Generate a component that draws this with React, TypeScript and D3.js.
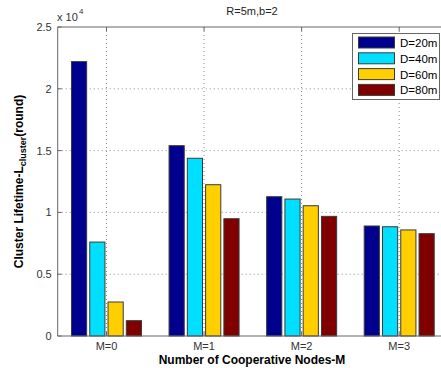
import React from "react";
import * as d3 from "d3";

// values in units of 10^4 rounds
const categories = ["M=0", "M=1", "M=2", "M=3"];
const seriesNames = ["D=20m", "D=40m", "D=60m", "D=80m"];
const d20 = [2.22, 1.54, 1.127, 0.89];
const d40 = [0.76, 1.438, 1.108, 0.884];
const d60 = [0.275, 1.224, 1.054, 0.858];
const d80 = [0.124, 0.949, 0.968, 0.828];
const yTicks = [0, 0.5, 1, 1.5, 2, 2.5];
const colors = ["#00008f", "#00dfff", "#ffcf00", "#800000"];

const seriesValues = [d20, d40, d60, d80];

const W = 441;
const H = 368;
const left = 57.7;
const right = 448;
const top = 27;
const bottom = 336;
const font = "Liberation Sans, Arial, sans-serif";

const App = () => {
  const x = d3.scaleLinear().domain([0.5, 4.5]).range([left, right]);
  const y = d3.scaleLinear().domain([0, 2.5]).range([bottom, top]);
  const inner = d3.scaleBand<number>().domain([0, 1, 2, 3]).range([-35, 35]).paddingInner(0.17);

  return (
    <svg width={W} height={H} style={{ position: "absolute", left: 0, top: 0, background: "#fff" }}>
      <rect x={0} y={0} width={W} height={H} fill="#fff" />
      {/* grid */}
      {yTicks.slice(1, -1).map(t => (
        <line key={"gy" + t} x1={left} x2={right} y1={y(t)} y2={y(t)} stroke="#8c8c8c" strokeDasharray="1,3" />
      ))}
      {categories.map((c, i) => (
        <line key={"gx" + c} x1={x(i + 1)} x2={x(i + 1)} y1={top} y2={bottom} stroke="#8c8c8c" strokeDasharray="1,3" />
      ))}
      {/* bars */}
      {seriesValues.map((vals, s) =>
        vals.map((v, i) => (
          <rect
            key={s + "-" + i}
            x={x(i + 1) + (inner(s) as number)}
            y={y(v)}
            width={inner.bandwidth()}
            height={y(0) - y(v)}
            fill={colors[s]}
            stroke="#3a3a3a"
            strokeWidth={1}
          />
        ))
      )}
      {/* axes */}
      <line x1={left} x2={right} y1={bottom} y2={bottom} stroke="#666" />
      <line x1={left} x2={right} y1={top} y2={top} stroke="#666" />
      <line x1={left} x2={left} y1={top} y2={bottom} stroke="#666" />
      {yTicks.map(t => (
        <g key={"ty" + t}>
          <line x1={left} x2={left + 4} y1={y(t)} y2={y(t)} stroke="#666" />
          <text x={left - 6} y={y(t) + 4} textAnchor="end" fontSize={11} fontFamily={font} fill="#333">
            {t}
          </text>
        </g>
      ))}
      {categories.map((c, i) => (
        <g key={"tx" + c}>
          <line x1={x(i + 1)} x2={x(i + 1)} y1={bottom} y2={bottom - 4} stroke="#666" />
          <line x1={x(i + 1)} x2={x(i + 1)} y1={top} y2={top + 4} stroke="#666" />
          <text x={x(i + 1)} y={bottom + 14} textAnchor="middle" fontSize={11} fontFamily={font} fill="#333">
            {c}
          </text>
        </g>
      ))}
      {/* exponent */}
      <text x={57} y={21} fontSize={11} fontFamily={font} fill="#333">
        x 10
      </text>
      <text x={79} y={14} fontSize={8} fontFamily={font} fill="#333">
        4
      </text>
      {/* title */}
      <text x={252} y={15} textAnchor="middle" fontSize={11} fontFamily={font} fill="#222">
        R=5m,b=2
      </text>
      {/* x label */}
      <text x={252} y={364} textAnchor="middle" fontSize={12} fontWeight="bold" fontFamily={font} fill="#000">
        Number of Cooperative Nodes-M
      </text>
      {/* y label */}
      <text
        transform={`translate(23,${(top + bottom) / 2}) rotate(-90)`}
        textAnchor="middle"
        fontSize={12}
        fontWeight="bold"
        fontFamily={font}
        fill="#000"
      >
        Cluster Lifetime-L
        <tspan fontSize={9} dy={3}>cluster</tspan>
        <tspan dy={-3}>(round)</tspan>
      </text>
      {/* legend */}
      <rect x={352.5} y={33.5} width={87} height={66} fill="#fff" stroke="#666" />
      {seriesNames.map((n, s) => (
        <g key={n}>
          <rect x={358.5} y={37 + s * 15.8} width={36} height={11} fill={colors[s]} stroke="#3a3a3a" />
          <text x={400} y={47 + s * 15.8} fontSize={11.5} fontFamily={font} fill="#000">
            {n}
          </text>
        </g>
      ))}
    </svg>
  );
};

export default App;
